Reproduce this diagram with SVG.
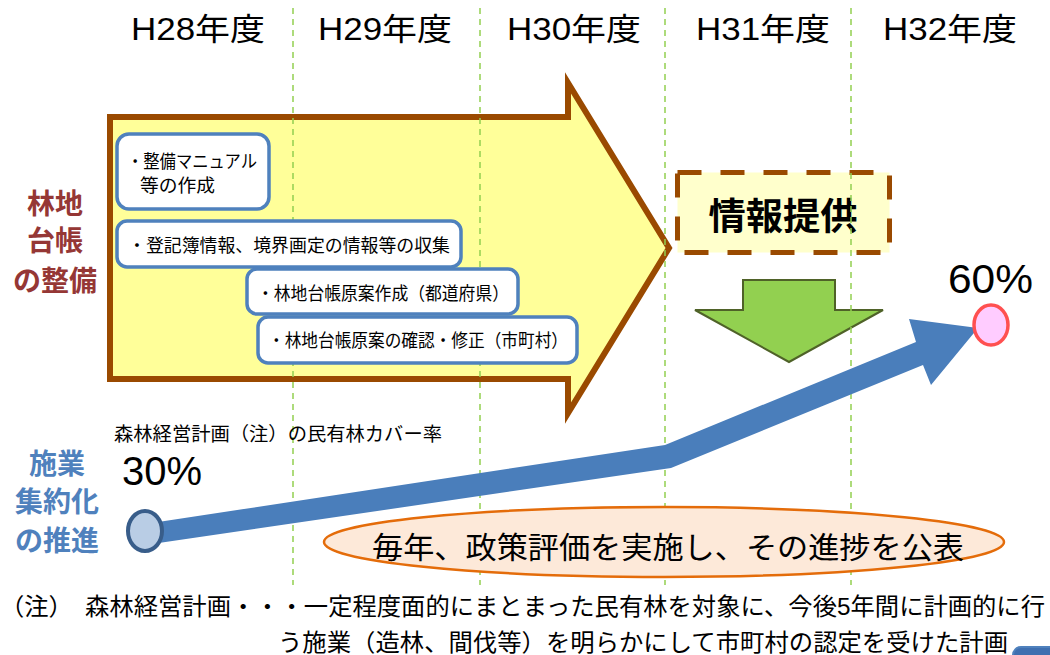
<svg xmlns="http://www.w3.org/2000/svg" width="1050" height="655" viewBox="0 0 1050 655">
<style>
text{font-family:"Liberation Sans","Noto Sans CJK JP",sans-serif;fill:#000}
.yr{font-size:31px}
.box{fill:#fff;stroke:#4F81BD;stroke-width:3.5}
.bt{font-size:18px}
.vl{stroke:#92D050;stroke-width:1.5;stroke-dasharray:6 5;fill:none}
.lbl{font-size:28px;font-weight:bold;text-anchor:middle}
.pct{font-size:40px}
</style>
<rect width="1050" height="655" fill="#fff"/>
<g id="years">
<text class="yr" x="198" y="40" text-anchor="middle" textLength="134" lengthAdjust="spacingAndGlyphs">H28年度</text>
<text class="yr" x="385" y="40" text-anchor="middle" textLength="134" lengthAdjust="spacingAndGlyphs">H29年度</text>
<text class="yr" x="574" y="40" text-anchor="middle" textLength="134" lengthAdjust="spacingAndGlyphs">H30年度</text>
<text class="yr" x="763" y="40" text-anchor="middle" textLength="134" lengthAdjust="spacingAndGlyphs">H31年度</text>
<text class="yr" x="950" y="40" text-anchor="middle" textLength="134" lengthAdjust="spacingAndGlyphs">H32年度</text>
</g>
<g id="big-arrow">
<polygon points="110,117 568,117 568,83 669,248 568,413 568,379 110,379" fill="#FFFF99" stroke="#9A4A00" stroke-width="6"/>
</g>
<g id="info">
<rect x="677.5" y="172.5" width="212" height="80" fill="#FFFFCC" stroke="#9A4A00" stroke-width="5" stroke-dasharray="24 19"/>
<text x="783" y="230" font-size="37" font-weight="bold" text-anchor="middle" textLength="149" lengthAdjust="spacingAndGlyphs">情報提供</text>
</g>
<g id="down-arrow">
<polygon points="743,280 835,280 835,310 883,310 789,362 695,310 743,310" fill="#92D050" stroke="#4F6228" stroke-width="2"/>
</g>
<g id="grid">
<line class="vl" x1="293" y1="8" x2="293" y2="585"/>
<line class="vl" x1="480" y1="8" x2="480" y2="585"/>
<line class="vl" x1="665" y1="8" x2="665" y2="585"/>
<line class="vl" x1="851" y1="8" x2="851" y2="585"/>
</g>
<g id="box1">
<rect class="box" x="117" y="134" width="152" height="75" rx="12"/>
<text class="bt" x="127" y="168" textLength="130" lengthAdjust="spacingAndGlyphs">・整備マニュアル</text>
<text class="bt" x="140" y="192" textLength="75" lengthAdjust="spacingAndGlyphs">等の作成</text>
</g>
<g id="box2">
<rect class="box" x="117" y="221" width="344" height="46" rx="10"/>
<text class="bt" x="128" y="252" textLength="322" lengthAdjust="spacingAndGlyphs">・登記簿情報、境界画定の情報等の収集</text>
</g>
<g id="box3">
<rect class="box" x="247" y="269" width="271" height="45" rx="10"/>
<text class="bt" x="257" y="300" textLength="252" lengthAdjust="spacingAndGlyphs">・林地台帳原案作成（都道府県）</text>
</g>
<g id="box4">
<rect class="box" x="258" y="317" width="319" height="46" rx="10"/>
<text class="bt" x="268" y="347" textLength="300" lengthAdjust="spacingAndGlyphs">・林地台帳原案の確認・修正（市町村）</text>
</g>
<g id="connectors">
<polygon points="145,524 665,445 916,342 909,319 978,328 931,385 923,365 671,468 145,545" fill="#4A7EBB"/>
</g>
<g id="start">
<ellipse cx="145" cy="531" rx="17" ry="20" fill="#B9CDE5" stroke="#385D8A" stroke-width="4"/>
</g>
<g id="end">
<ellipse cx="991" cy="325" rx="17" ry="20" fill="#FFCCFF" stroke="#FF5050" stroke-width="3.5"/>
</g>
<g id="policy">
<ellipse cx="664" cy="542" rx="340" ry="35" fill="#FDE9D9" stroke="#E46C0A" stroke-width="2.5"/>
<text x="372" y="558" font-size="30" textLength="592" lengthAdjust="spacingAndGlyphs">毎年、政策評価を実施し、その進捗を公表</text>
</g>
<g id="labels">
<text class="lbl" x="55" y="214" style="fill:#953735">林地</text>
<text class="lbl" x="55" y="251" style="fill:#953735">台帳</text>
<text class="lbl" x="55" y="291" style="fill:#953735">の整備</text>
<text class="lbl" x="57" y="474" style="fill:#4F81BD">施業</text>
<text class="lbl" x="57" y="512" style="fill:#4F81BD">集約化</text>
<text class="lbl" x="57" y="551" style="fill:#4F81BD">の推進</text>
<text x="114" y="441" font-size="19" textLength="328" lengthAdjust="spacingAndGlyphs">森林経営計画（注）の民有林カバー率</text>
<text class="pct" x="122" y="485" textLength="80" lengthAdjust="spacingAndGlyphs">30%</text>
<text class="pct" x="948" y="293" textLength="85" lengthAdjust="spacingAndGlyphs">60%</text>
</g>
<g id="note">
<text x="0" y="615" font-size="24" textLength="1045" lengthAdjust="spacingAndGlyphs">（注）　森林経営計画・・・一定程度面的にまとまった民有林を対象に、今後5年間に計画的に行</text>
<text x="278" y="651" font-size="24" textLength="730" lengthAdjust="spacingAndGlyphs">う施業（造林、間伐等）を明らかにして市町村の認定を受けた計画</text>
</g>
<g id="corner">
<rect x="1013" y="647" width="60" height="30" rx="8" fill="#3F6FB0" stroke="#4F81BD" stroke-width="2"/>
</g>
</svg>
